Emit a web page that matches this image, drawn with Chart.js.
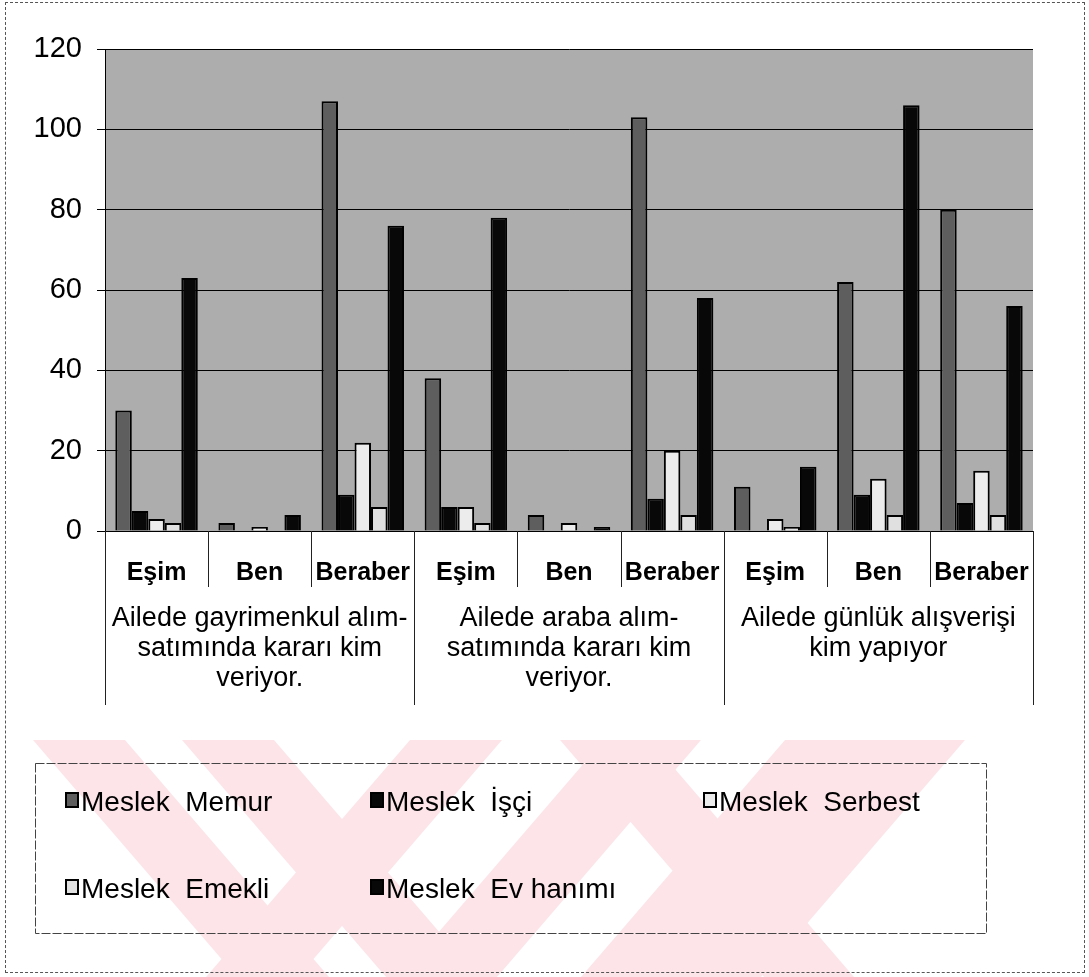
<!DOCTYPE html>
<html>
<head>
<meta charset="utf-8">
<script src="https://cdn.jsdelivr.net/npm/chart.js@4.4.1/dist/chart.umd.min.js"></script>
<style>
  html, body { margin: 0; padding: 0; background: #ffffff; }
  #wrap { position: relative; width: 1089px; height: 977px; overflow: hidden; }
  #wm { position: absolute; left: 0; top: 0; }
  #frame { position: absolute; left: 5px; top: 2px; width: 1080px; height: 971px; border: 1px dashed #555; box-sizing: border-box; }
  canvas { position: absolute; left: 0; top: 0; }
</style>
</head>
<body>
<div id="wrap">
  <svg id="wm" width="1089" height="977" xmlns="http://www.w3.org/2000/svg">
    <g fill="#fce4e8">
      <polygon points="33,740 125,740 329,977 237,977"/>
      <polygon points="182,740 274,740 478,977 386,977"/>
      <polygon points="410,740 502,740 298,977 206,977"/>
      <polygon points="604,740 701,740 497,977 400,977"/>
      <polygon points="560,740 650,740 854,977 764,977"/>
      <polygon points="785,740 965,740 761,977 581,977"/>
    </g>
  </svg>
  <div id="frame"></div>
  <canvas id="c" width="1089" height="977"></canvas>
</div>
<script>
// ---- data ----
const categories = ['Eşim', 'Ben', 'Beraber', 'Eşim', 'Ben', 'Beraber', 'Eşim', 'Ben', 'Beraber'];
const groupLabels = [
  ['Ailede gayrimenkul alım-', 'satımında kararı kim', 'veriyor.'],
  ['Ailede araba alım-', 'satımında kararı kim', 'veriyor.'],
  ['Ailede günlük alışverişi', 'kim yapıyor']
];
const seriesNames = ['Meslek  Memur', 'Meslek  İşçi', 'Meslek  Serbest', 'Meslek  Emekli', 'Meslek  Ev hanımı'];
const memur   = [30, 2, 107, 38, 4, 103, 11, 62, 80];
const isci    = [5, 0, 9, 6, 0, 8, 0, 9, 7];
const serbest = [3, 1, 22, 6, 2, 20, 3, 13, 15];
const emekli  = [2, 0, 6, 2, 0, 4, 1, 4, 4];
const evHanimi = [63, 4, 76, 78, 1, 58, 16, 106, 56];
const yTicks = [0, 20, 40, 60, 80, 100, 120];

// ---- styles ----
const FONT = '"Liberation Sans", Arial, sans-serif';
const fills = ['#5e5e5e', '#080808', '#ececec', '#e0e0e0', '#080808'];
const seriesData = [memur, isci, serbest, emekli, evHanimi];

const datasets = seriesData.map((d, i) => ({
  label: seriesNames[i],
  data: d,
  backgroundColor: fills[i],
  borderColor: '#000',
  borderWidth: (ctx) => (ctx.raw ? 2 : 0),
  barPercentage: 1.0,
  categoryPercentage: 0.8
}));

const decor = {
  id: 'decor',
  beforeDraw(chart) {
    const { ctx, chartArea: a } = chart;
    ctx.save();
    ctx.fillStyle = '#adadad';
    ctx.fillRect(a.left, a.top, a.right - a.left, a.bottom - a.top);
    ctx.restore();
  },
  afterDraw(chart) {
    const { ctx, chartArea: a } = chart;
    const x = chart.scales.x;
    const half = (x.getPixelForValue(1) - x.getPixelForValue(0)) / 2;
    ctx.save();
    ctx.strokeStyle = '#000';
    ctx.lineWidth = 1;
    // axis baseline
    ctx.beginPath();
    ctx.moveTo(a.left, a.bottom + 0.5);
    ctx.lineTo(a.right, a.bottom + 0.5);
    ctx.stroke();
    // separators
    ctx.strokeStyle = '#222';
    for (let i = 0; i <= categories.length; i++) {
      const px = Math.round(x.getPixelForValue(i) - half) + 0.5;
      const isGroup = i % 3 === 0;
      ctx.beginPath();
      ctx.moveTo(px, a.bottom);
      ctx.lineTo(px, isGroup ? 705 : 587);
      ctx.stroke();
    }
    // group labels
    ctx.fillStyle = '#000';
    ctx.font = '27px ' + FONT;
    ctx.textAlign = 'center';
    ctx.textBaseline = 'alphabetic';
    groupLabels.forEach((lines, g) => {
      const cx = (x.getPixelForValue(g * 3) + x.getPixelForValue(g * 3 + 2)) / 2;
      lines.forEach((t, k) => ctx.fillText(t, cx, 626 + k * 30));
    });
    // legend box
    ctx.strokeStyle = '#444';
    ctx.lineWidth = 1;
    ctx.setLineDash([9, 2]);
    ctx.strokeRect(35.5, 763.5, 951, 170);
    ctx.setLineDash([]);
    // legend items
    const cols = [65, 370, 703];
    const rows = [811, 898];
    ctx.font = '28px ' + FONT;
    ctx.textAlign = 'left';
    chart.data.datasets.forEach((ds, i) => {
      const cx = cols[i % 3];
      const by = rows[Math.floor(i / 3)];
      ctx.fillStyle = ds.backgroundColor;
      ctx.fillRect(cx, by - 19, 14, 16);
      ctx.strokeStyle = '#000';
      ctx.lineWidth = 2;
      ctx.strokeRect(cx + 1, by - 18, 12, 14);
      ctx.fillStyle = '#000';
      ctx.fillText(ds.label, cx + 16, by);
    });
    ctx.restore();
  }
};

new Chart(document.getElementById('c'), {
  type: 'bar',
  data: { labels: categories, datasets },
  plugins: [decor],
  options: {
    responsive: false,
    animation: false,
    devicePixelRatio: 1,
    layout: { padding: { top: 49, right: 56, bottom: 0, left: 0 } },
    plugins: { legend: { display: false }, tooltip: { enabled: false } },
    scales: {
      x: {
        grid: { display: false, drawTicks: false },
        border: { display: false },
        ticks: {
          color: '#000',
          font: { family: FONT, size: 25, weight: 'bold' },
          padding: 27,
          maxRotation: 0,
          autoSkip: false
        },
        afterFit(s) { s.height = 977 - 531; }
      },
      y: {
        min: 0,
        max: 120,
        afterBuildTicks(s) { s.ticks = yTicks.map(v => ({ value: v })); },
        ticks: {
          color: '#000',
          font: { family: FONT, size: 29 },
          padding: 15
        },
        grid: { color: '#000', lineWidth: 1, tickLength: 8, drawTicks: true },
        border: { color: '#000', width: 1 },
        afterFit(s) { s.width = 105; }
      }
    }
  }
});
</script>
</body>
</html>
